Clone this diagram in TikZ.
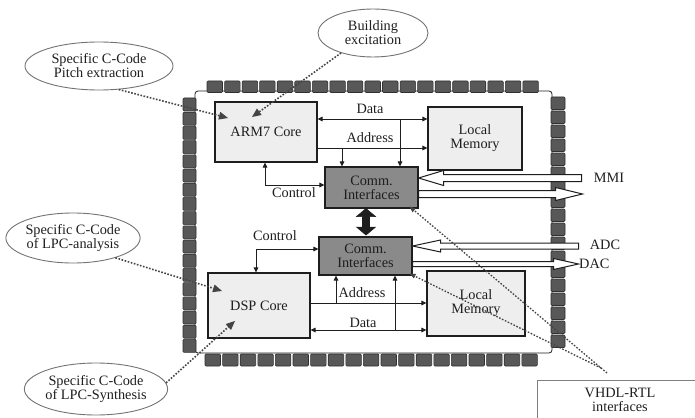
\documentclass[tikz,border=0pt]{standalone}
\usepackage{fontspec}
\setmainfont{Liberation Serif}
\usetikzlibrary{arrows.meta,shapes.geometric,calc}
\definecolor{padfill}{HTML}{585858}
\definecolor{paddraw}{HTML}{303030}
\definecolor{blockfill}{HTML}{EEEEEE}
\definecolor{commfill}{HTML}{8A8A8A}
\definecolor{ink}{HTML}{1E1E1E}
\definecolor{notecol}{HTML}{444444}
\begin{document}
\begin{tikzpicture}[x=1pt,y=-1pt,
  font=\fontsize{14.3}{15}\selectfont,
  every node/.style={text=ink},
  block/.style={draw=ink, line width=1.1pt, fill=blockfill, inner sep=0pt, align=center},
  comm/.style={block, fill=commfill},
  pad/.style={fill=padfill, draw=paddraw, line width=0.6pt, rounded corners=1pt},
  bus/.style={draw=ink, line width=1pt},
  busend/.style={bus, -{Triangle[length=5pt,width=4.5pt]}},
  busboth/.style={bus, {Triangle[length=5pt,width=4.5pt]}-{Triangle[length=5pt,width=4.5pt]}},
  fat/.style={draw=ink, fill=white, line width=1pt, line join=miter},
  bubble/.style={ellipse, draw=gray!90!black, line width=0.9pt, inner sep=0pt, align=center},
  note/.style={draw=notecol, line width=1.6pt, dash pattern=on 1.6pt off 1.6pt,
     -{Triangle[length=9pt,width=8pt,fill=notecol,line width=0pt]}},
  lbl/.style={inner sep=0pt}
]
\useasboundingbox (0,0) rectangle (695,417);

% chip frame
\draw[ink, line width=0.8pt, rounded corners=3pt] (195,91) rectangle (552,353);
% pads
\foreach \i in {0,...,18} \draw[pad] (207+\i*17.55,81) rectangle ++(15.5,11.5);
\foreach \i in {0,...,17} \draw[pad] (183,98+\i*14.2) rectangle ++(13,13);
\foreach \i in {0,...,17} \draw[pad] (551,97+\i*14) rectangle ++(14,12.5);
\foreach \i in {0,...,18} \draw[pad] (205+\i*17.6,354) rectangle ++(15.5,12);

% blocks
\node[block, minimum width=102pt, minimum height=60pt] (arm) at (266,132) {ARM7 Core};
\node[block, minimum width=94pt, minimum height=63pt] (lmt) at (475,138.5) {Local\\[-1pt]Memory};
\node[comm, minimum width=93pt, minimum height=41pt] (ct) at (371.5,187.5) {Comm.\\[-1pt]Interfaces};
\node[comm, minimum width=93pt, minimum height=38pt] (cb) at (365.5,256) {Comm.\\[-1pt]Interfaces};
\node[block, minimum width=102pt, minimum height=65pt] (dsp) at (259,305.5) {DSP Core};
\node[block, minimum width=98pt, minimum height=65pt] (lmb) at (476,303.5) {Local\\[-1pt]Memory};

% top buses
\draw[busboth] (arm.east |- 0,119) -- (lmt.west |- 0,119);
\draw[busend] (400,119) -- (ct.north -| 400,0);
\draw[busend] (arm.east |- 0,148) -- (lmt.west |- 0,148);
\draw[busend] (342,148) -- (ct.north -| 342,0);
\draw[busboth] (arm.south -| 265,0) |- (ct.west |- 0,185);
\node[lbl] (tdata) at (370,109) {Data};
\node[lbl] (taddr) at (370,138) {Address};
\node[lbl] (tctrl) at (294,193) {Control};

% bottom buses
\draw[busboth] (dsp.north -| 256,0) |- (cb.west |- 0,249);
\draw[busend] (dsp.east |- 0,303) -- (lmb.west |- 0,303);
\draw[busend] (336,303) -- (cb.south -| 336,0);
\draw[busboth] (dsp.east |- 0,330) -- (lmb.west |- 0,330);
\draw[busend] (395,330) -- (cb.south -| 395,0);
\node[lbl] (bctrl) at (275,236) {Control};
\node[lbl] (baddr) at (362,293) {Address};
\node[lbl] (bdata) at (363,323) {Data};

% thick double arrow between comm interfaces
\draw[fill=ink, draw=ink, line width=0.6pt] (ct.south -| 366,0) -- ++(9.5,8) -- ++(-6,0) -- ++(0,10.5) -- ++(6,0) -- ++(-9.5,8) -- ++(-9.5,-8) -- ++(6,0) -- ++(0,-10.5) -- ++(-6,0) -- cycle;

% fat I/O arrows
\draw[fat] (ct.east |- 0,178) -- ++(25,-7.5) -- ++(0,4) -- ++(138,0) -- ++(0,7) -- ++(-138,0) -- ++(0,4) -- cycle;
\draw[fat] (ct.east |- 0,190.5) -- ++(137,0) -- ++(0,-3) -- ++(27,6.5) -- ++(-27,6.5) -- ++(0,-3) -- ++(-137,0) -- cycle;
\draw[fat] (cb.east |- 0,246) -- ++(28,-6) -- ++(0,3) -- ++(138,0) -- ++(0,6) -- ++(-138,0) -- ++(0,3) -- cycle;
\draw[fat] (cb.east |- 0,261.5) -- ++(141,0) -- ++(0,-3) -- ++(25,5.5) -- ++(-25,5.5) -- ++(0,-3) -- ++(-141,0) -- cycle;
\node[lbl] (mmi) at (609,178) {MMI};
\node[lbl] (adc) at (605,245) {ADC};
\node[lbl, anchor=west] (dac) at (579,263.5) {DAC};

% annotation bubbles
\node[bubble, minimum width=148pt, minimum height=48pt] (pitch) at (99,66) {Specific C-Code\\[-1pt]Pitch extraction};
\node[bubble, minimum width=110pt, minimum height=48pt] (build) at (373,33) {Building\\[-1pt]excitation};
\node[bubble, minimum width=133pt, minimum height=50pt] (lpca) at (73,238) {Specific C-Code\\[-1pt]of LPC-analysis};
\node[bubble, minimum width=142pt, minimum height=52pt] (lpcs) at (96,389) {Specific C-Code\\[-1pt]of LPC-Synthesis};
\node[draw=gray, line width=0.7pt, anchor=north west, minimum width=170pt, minimum height=45pt, inner sep=0pt] (vhdl) at (537,380) {};
\node[lbl, align=center] (vhdltxt) at (620,400) {VHDL-RTL\\[-1pt]interfaces};

% dotted annotation arrows
\coordinate (armA) at (228,118);
\coordinate (armB) at (252,117);
\coordinate (dspA) at (222,291);
\coordinate (dspB) at (235,321);
\coordinate (vj1) at (607,373);
\coordinate (vj2) at (601,368);
\draw[note] (pitch.-50) -- (armA);
\draw[note] (build.212) -- (armB);
\draw[note] (lpca.-25) -- (dspA);
\draw[note] (lpcs.5) -- (dspB);
\draw[note, line width=1.3pt, -{Triangle[length=6pt,width=5pt,fill=notecol,line width=0pt]}] (vj1) -- ($(ct.south east)+(-9,-2)$);
\draw[note, line width=1.3pt, -{Triangle[length=6pt,width=5pt,fill=notecol,line width=0pt]}] (vj2) -- ($(cb.south east)+(-3,-2)$);
\end{tikzpicture}
\end{document}
